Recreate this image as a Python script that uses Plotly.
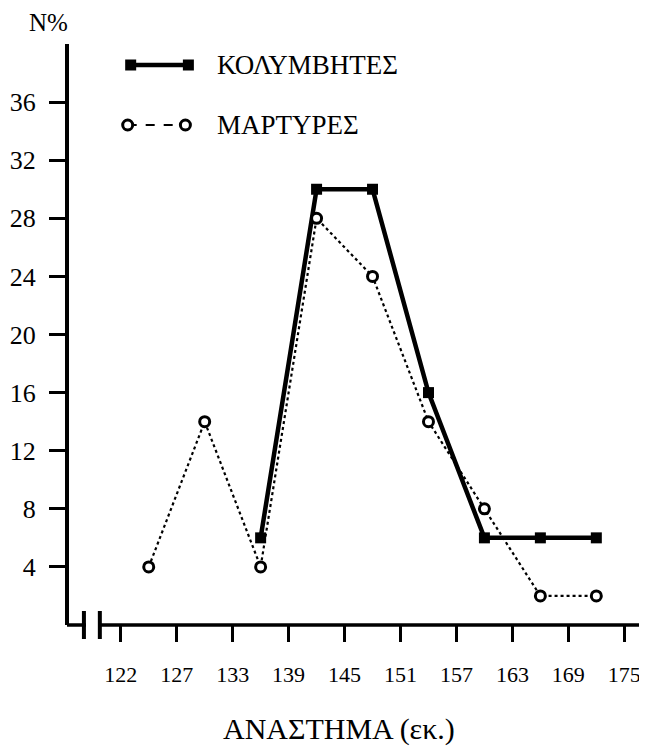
import plotly.graph_objects as go

# ---- data ----
tick_labels = ["122", "127", "133", "139", "145", "151", "157", "163", "169", "175"]
y_ticks = [4, 8, 12, 16, 20, 24, 28, 32, 36]

# class index (interval between tick i and tick i+1)
swim_bins = [2, 3, 4, 5, 6, 7, 8]
swim_values = [6, 30, 30, 16, 6, 6, 6]
wit_bins = [0, 1, 2, 3, 4, 5, 6, 7, 8]
wit_values = [4, 14, 4, 28, 24, 14, 8, 2, 2]

swim_name = "ΚΟΛΥΜΒΗΤΕΣ"
wit_name = "ΜΑΡΤΥΡΕΣ"
x_title = "ΑΝΑΣΤΗΜΑ (εκ.)"
y_title = "N%"

FONT = "Liberation Serif, Times New Roman, serif"

# page geometry (the page body has an 8px margin)
PAGE_OFF = 8
PLOT_L, PLOT_R, PLOT_T, PLOT_B = 66, 645, 44, 625


def px(xp):
    return (xp - PLOT_L) / (PLOT_R - PLOT_L)


def py(yp):
    return (PLOT_B - yp) / (PLOT_B - PLOT_T)


swim_x = [b + 0.5 for b in swim_bins]
wit_x = [b + 0.5 for b in wit_bins]

fig = go.Figure()

fig.add_trace(go.Scatter(
    x=swim_x, y=swim_values, mode="lines+markers", name=swim_name,
    line=dict(color="black", width=4.5),
    marker=dict(symbol="square", size=11, color="black"),
    showlegend=False,
))
fig.add_trace(go.Scatter(
    x=wit_x, y=wit_values, mode="lines+markers", name=wit_name,
    line=dict(color="black", width=2.2, dash="dot"),
    marker=dict(symbol="circle", size=10, color="white",
                line=dict(color="black", width=3)),
    showlegend=False,
))

# ---- hand-drawn legend on a hidden pixel-scaled overlay axis ----
fig.add_trace(go.Scatter(
    x=[128, 186], y=[65, 65], mode="lines+markers", xaxis="x2", yaxis="y2",
    line=dict(color="black", width=4.5),
    marker=dict(symbol="square", size=11, color="black"),
    showlegend=False, hoverinfo="skip",
))
fig.add_trace(go.Scatter(
    x=[125, 183], y=[125, 125], mode="lines+markers", xaxis="x2", yaxis="y2",
    line=dict(color="black", width=2, dash="dash"),
    marker=dict(symbol="circle", size=10, color="white",
                line=dict(color="black", width=3)),
    showlegend=False, hoverinfo="skip",
))

annotations = [
    dict(x=px(213), y=py(65), xref="paper", yref="paper", text=swim_name, showarrow=False,
         xanchor="left", yanchor="middle", font=dict(family=FONT, size=27, color="black")),
    dict(x=px(213), y=py(125), xref="paper", yref="paper", text=wit_name, showarrow=False,
         xanchor="left", yanchor="middle", font=dict(family=FONT, size=27, color="black")),
    dict(x=px(45), y=py(23), xref="paper", yref="paper", text=y_title, showarrow=False,
         xanchor="center", yanchor="middle", font=dict(family=FONT, size=25, color="black")),
    dict(x=px(337), y=py(729), xref="paper", yref="paper", text=x_title, showarrow=False,
         xanchor="center", yanchor="middle", font=dict(family=FONT, size=30, color="black")),
]


def seg(x0, y0, x1, y1, w=3.5):
    return dict(type="line", xref="paper", yref="paper",
                x0=px(x0), x1=px(x1), y0=py(y0), y1=py(y1),
                line=dict(color="black", width=w))


# x-axis line with a break mark
shapes = [
    seg(64, 625, 83, 625),
    seg(96, 625, 645, 625),
    seg(81, 611, 81, 639, 4),
    seg(97, 611, 97, 639, 4),
]

fig.update_layout(
    width=647 - PAGE_OFF, height=754 - PAGE_OFF,
    margin=dict(l=PLOT_L - PAGE_OFF, r=647 - PLOT_R, t=PLOT_T - PAGE_OFF, b=754 - PLOT_B),
    paper_bgcolor="white", plot_bgcolor="white",
    font=dict(family=FONT, color="black"),
    showlegend=False,
    annotations=annotations,
    shapes=shapes,
    xaxis=dict(
        range=[-0.925, 9.37], tickmode="array", tickvals=list(range(len(tick_labels))),
        ticktext=tick_labels, ticks="outside", ticklen=16, tickwidth=3,
        tickcolor="black", showline=False, showgrid=False, zeroline=False,
        tickfont=dict(family=FONT, size=22, color="black"), ticklabelstandoff=14,
    ),
    yaxis=dict(
        range=[0, 40], tickmode="array", tickvals=y_ticks,
        ticks="outside", ticklen=16, tickwidth=3, tickcolor="black",
        showline=True, linewidth=4, linecolor="black",
        showgrid=False, zeroline=False,
        tickfont=dict(family=FONT, size=26, color="black"), ticklabelstandoff=8,
    ),
    xaxis2=dict(range=[PLOT_L, PLOT_R], overlaying="x", visible=False, anchor="y2"),
    yaxis2=dict(range=[PLOT_B, PLOT_T], overlaying="y", visible=False, anchor="x2"),
)

fig.write_html("out.html")
